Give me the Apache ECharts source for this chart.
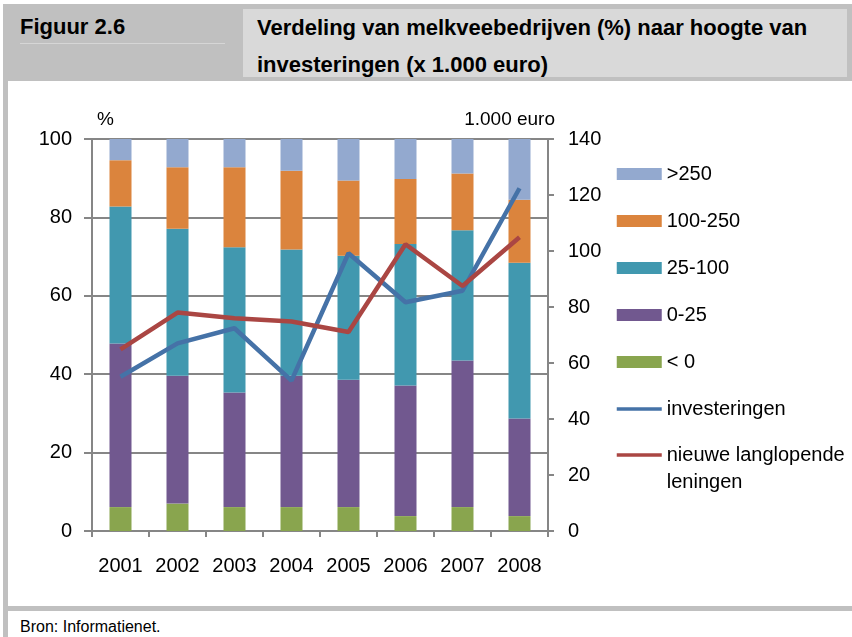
<!DOCTYPE html>
<html>
<head>
<meta charset="utf-8">
<script src="https://cdn.jsdelivr.net/npm/echarts@6/dist/echarts.min.js"></script>
<style>
body { margin: 0; width: 852px; height: 637px; position: relative; background: #fff; overflow: hidden; font-family: "Liberation Sans", Arial, sans-serif; }
.box { position: absolute; }
#head { left: 3px; top: 4px; width: 849px; height: 77px; background: #c0c0c0; }
#leftbar { left: 3px; top: 4px; width: 5px; height: 633px; background: #c0c0c0; }
#cell { left: 243px; top: 9px; width: 604px; height: 68px; background: #d9d9d9; }
#rule { left: 20px; top: 43px; width: 205px; height: 1px; background: #d6d6d6; }
#bottom { left: 3px; top: 606px; width: 849px; height: 5px; background: #c0c0c0; }
.t { position: absolute; font-weight: bold; font-size: 22px; color: #000; white-space: nowrap; line-height: 26px; }
#src { position: absolute; left: 20px; top: 617px; font-size: 16px; line-height: 20px; color: #000; white-space: nowrap; }
#chart { position: absolute; left: 0; top: 0; width: 852px; height: 637px; }
</style>
</head>
<body>
<div class="box" id="head"></div>
<div class="box" id="leftbar"></div>
<div class="box" id="cell"></div>
<div class="box" id="rule"></div>
<div class="box" id="bottom"></div>
<div class="t" style="left:20px;top:14px">Figuur 2.6</div>
<div class="t" style="left:257px;top:15px">Verdeling van melkveebedrijven (%) naar hoogte van</div>
<div class="t" style="left:257px;top:52px">investeringen (x 1.000 euro)</div>
<div id="src">Bron: Informatienet.</div>
<div id="chart"></div>
<script>
// jaren
var years = ['2001', '2002', '2003', '2004', '2005', '2006', '2007', '2008'];

// verdeling bedrijven (%) per investeringsklasse
var lt0 = [6.1, 7.0, 6.1, 6.1, 6.1, 3.8, 6.1, 3.8];
var k0_25 = [41.7, 32.6, 29.2, 33.5, 32.5, 33.3, 37.4, 24.9];
var k25_100 = [35.0, 37.5, 37.1, 32.2, 31.6, 36.1, 33.2, 39.7];
var k100_250 = [11.8, 15.7, 20.4, 20.1, 19.2, 16.6, 14.5, 16.1];
var gt250 = [5.4, 7.2, 7.2, 8.1, 10.6, 10.2, 8.8, 15.5];

// x 1.000 euro
var investeringen = [55.1, 67.0, 72.4, 53.7, 99.2, 81.7, 85.8, 122.4];
var leningen = [64.9, 78.0, 76.0, 74.8, 71.1, 102.4, 87.5, 104.9];

var grijs = '#868686';
var font = '"Liberation Sans", Arial, sans-serif';

var myChart = echarts.init(document.getElementById('chart'));

function bar(name, data, color) {
    return {
        name: name,
        type: 'bar',
        stack: 'verdeling',
        barWidth: 22,
        data: data,
        itemStyle: { color: color }
    };
}

function lijn(name, data, color) {
    return {
        name: name,
        type: 'line',
        yAxisIndex: 1,
        symbol: 'none',
        showSymbol: false,
        data: data,
        lineStyle: { color: color, width: 4.5 },
        itemStyle: { color: color },
        z: 5
    };
}

var option = {
    animation: false,
    textStyle: { fontFamily: font },
    grid: { left: 92, right: 304, top: 139, bottom: 106 },
    xAxis: {
        type: 'category',
        data: years,
        axisLine: { lineStyle: { color: grijs, width: 2 } },
        axisTick: { show: true, interval: 0, length: 6, lineStyle: { color: grijs, width: 2 } },
        axisLabel: { interval: 0, margin: 25, fontSize: 20, color: '#000', fontFamily: font }
    },
    yAxis: [
        {
            type: 'value',
            min: 0, max: 100, interval: 20,
            position: 'left',
            name: '%',
            nameLocation: 'end',
            nameGap: 10,
            nameTextStyle: { align: 'left', padding: [0, 0, 0, 5], fontSize: 19, color: '#000', fontFamily: font },
            axisLine: { show: true, lineStyle: { color: grijs, width: 2 } },
            axisTick: { show: true, length: 8, lineStyle: { color: grijs, width: 2 } },
            axisLabel: { margin: 20, fontSize: 20, color: '#000', fontFamily: font },
            splitLine: { lineStyle: { color: grijs, width: 2 } }
        },
        {
            type: 'value',
            min: 0, max: 140, interval: 20,
            position: 'right',
            name: '1.000 euro',
            nameLocation: 'end',
            nameGap: 10,
            nameTextStyle: { align: 'right', padding: [0, -7, 0, 0], fontSize: 19, color: '#000', fontFamily: font },
            axisLine: { show: true, lineStyle: { color: grijs, width: 2 } },
            axisTick: { show: true, length: 6, lineStyle: { color: grijs, width: 2 } },
            axisLabel: { margin: 20, fontSize: 20, color: '#000', fontFamily: font },
            splitLine: { show: false }
        }
    ],
    legend: [
        {
            orient: 'vertical',
            left: 615,
            top: 163,
            padding: 0,
            itemGap: 25,
            itemWidth: 45,
            itemHeight: 12,
            selectedMode: false,
            textStyle: { fontSize: 20, lineHeight: 22, color: '#000', fontFamily: font },
            data: [
                { name: '>250', icon: 'rect' },
                { name: '100-250', icon: 'rect' },
                { name: '25-100', icon: 'rect' },
                { name: '0-25', icon: 'rect' },
                { name: '< 0', icon: 'rect' },
                { name: 'investeringen', itemStyle: { opacity: 0 }, lineStyle: { width: 3.5 } }
            ]
        },
        {
            orient: 'vertical',
            left: 615,
            top: 414.5,
            padding: 0,
            itemWidth: 45,
            itemHeight: 12,
            selectedMode: false,
            // lege eerste regel zodat de lijn bij de eerste tekstregel staat
            formatter: function () { return '\nnieuwe langlopende\nleningen'; },
            textStyle: { fontSize: 20, lineHeight: 27, color: '#000', fontFamily: font },
            data: [{ name: 'nieuwe langlopende leningen', itemStyle: { opacity: 0 }, lineStyle: { width: 3.5 } }]
        }
    ],
    series: [
        bar('< 0', lt0, '#89a54e'),
        bar('0-25', k0_25, '#71588f'),
        bar('25-100', k25_100, '#4198af'),
        bar('100-250', k100_250, '#db843d'),
        bar('>250', gt250, '#93a9cf'),
        lijn('investeringen', investeringen, '#4572a7'),
        lijn('nieuwe langlopende leningen', leningen, '#aa4643')
    ]
};

myChart.setOption(option, true);
</script>
</body>
</html>
